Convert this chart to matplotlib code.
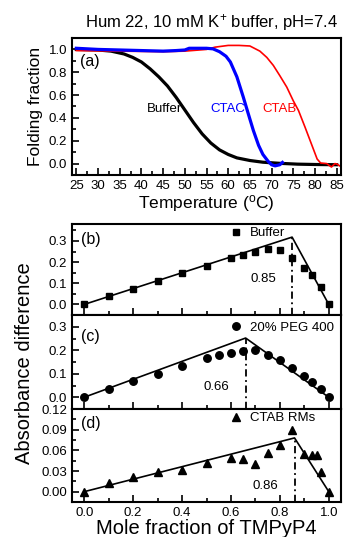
import matplotlib
matplotlib.use('Agg')
import matplotlib.pyplot as plt
from matplotlib.ticker import MultipleLocator, FormatStrFormatter

plt.rcParams['font.family'] = 'Liberation Sans'
plt.rcParams['mathtext.default'] = 'regular'

# (a) melting curves
temp_buffer = [25, 30, 33, 36, 38, 40, 42, 44, 46, 48, 50, 52, 54, 56, 58, 60,
               62, 65, 68, 72, 76, 80, 85]
frac_buffer = [1.0, 0.995, 0.985, 0.96, 0.93, 0.89, 0.83, 0.76, 0.68, 0.58, 0.47,
               0.36, 0.26, 0.18, 0.12, 0.08, 0.05, 0.027, 0.012, 0.002, -0.005,
               -0.008, -0.01]
temp_ctac = [25, 30, 35, 40, 45, 48, 50, 51, 52, 55, 56.5, 58, 59.5, 60.5, 62,
             63.5, 64.6, 65.8, 67, 68, 69.2, 70, 70.8, 71.9, 72.5]
frac_ctac = [1.01, 1.0, 0.995, 0.99, 0.985, 0.99, 0.995, 1.01, 1.01, 1.01, 1.005,
             0.98, 0.94, 0.89, 0.76, 0.58, 0.44, 0.29, 0.16, 0.08, 0.02, -0.01,
             -0.02, -0.01, 0.01]
temp_ctab = [25, 35, 45, 50, 55, 57, 60, 62.5, 65, 67.3, 68.9, 70.4, 71.9, 73.5,
             75, 76.2, 77.7, 79.2, 80.5, 81.3, 82.7, 83.8, 84.6, 85.1, 85.7]
frac_ctab = [0.99, 0.985, 0.98, 0.985, 1.0, 1.02, 1.035, 1.035, 1.03, 0.985, 0.93,
             0.86, 0.77, 0.67, 0.55, 0.465, 0.32, 0.17, 0.04, 0.005, 0.0, -0.03,
             0.0, -0.005, -0.02]

# (b)-(d) job plots
x_buffer = [0, 0.1, 0.2, 0.3, 0.4, 0.5, 0.6, 0.65, 0.7, 0.75, 0.8, 0.85, 0.9,
            0.93, 0.97, 1.0]
y_buffer = [0.0, 0.04, 0.074, 0.113, 0.147, 0.183, 0.219, 0.234, 0.249, 0.26,
            0.258, 0.218, 0.172, 0.139, 0.08, 0.0]
x_peg = [0, 0.1, 0.2, 0.3, 0.4, 0.5, 0.55, 0.6, 0.65, 0.7, 0.75, 0.8, 0.85, 0.9,
         0.93, 0.97, 1.0]
y_peg = [0.0, 0.034, 0.07, 0.10, 0.134, 0.167, 0.178, 0.188, 0.195, 0.2, 0.18,
         0.157, 0.123, 0.09, 0.065, 0.034, 0.0]
x_rms = [0, 0.1, 0.2, 0.3, 0.4, 0.5, 0.6, 0.65, 0.7, 0.75, 0.8, 0.85, 0.9, 0.93,
         0.95, 0.97, 1.0]
y_rms = [0.0, 0.012, 0.022, 0.029, 0.031, 0.042, 0.049, 0.047, 0.040, 0.056,
         0.068, 0.089, 0.055, 0.053, 0.053, 0.029, 0.0]

# linear fits: intersection mole fraction and the absorbance there
breaks = [0.85, 0.66, 0.86]
peaks = [0.318, 0.252, 0.078]

W, H = 347, 537
fig = plt.figure(figsize=(W / 100, H / 100), dpi=100)


def rect(left, top, right, bottom):
    return [left / W, 1 - bottom / H, (right - left) / W, (bottom - top) / H]


def style(ax):
    for s in ax.spines.values():
        s.set_linewidth(1.5)
    ax.tick_params(which='both', direction='in', top=False, right=False,
                   labelsize=9.5, width=1.2)
    ax.tick_params(which='major', length=5)
    ax.tick_params(which='minor', length=3)


ax_a = fig.add_axes(rect(72, 38, 341, 175))
ax_a.plot(temp_buffer, frac_buffer, color='black', lw=2.3)
ax_a.plot(temp_ctab, frac_ctab, color='red', lw=1.2)
ax_a.plot(temp_ctac, frac_ctac, color='blue', lw=2.3)
ax_a.set_xlim(24, 86)
ax_a.set_ylim(-0.1, 1.1)
ax_a.xaxis.set_major_locator(MultipleLocator(5))
ax_a.xaxis.set_minor_locator(MultipleLocator(2.5))
ax_a.yaxis.set_major_locator(MultipleLocator(0.2))
ax_a.yaxis.set_minor_locator(MultipleLocator(0.1))
ax_a.yaxis.set_major_formatter(FormatStrFormatter('%.1f'))
style(ax_a)
ax_a.set_xlabel('Temperature ($^{o}$C)', fontsize=12.5, labelpad=1)
ax_a.set_ylabel('Folding fraction', fontsize=12.5, labelpad=4)
ax_a.text(45.3, 0.48, 'Buffer', color='black', fontsize=9.5, ha='center', va='center')
ax_a.text(59.8, 0.48, 'CTAC', color='blue', fontsize=9.5, ha='center', va='center')
ax_a.text(71.8, 0.48, 'CTAB', color='red', fontsize=9.5, ha='center', va='center')
ax_a.text(0.03, 0.825, '(a)', transform=ax_a.transAxes, fontsize=11.5, va='center')

fig.text(212 / W, 1 - 22 / H, 'Hum 22, 10 mM K$^{+}$ buffer, pH=7.4',
         fontsize=12, ha='center', va='center')

ax_b = fig.add_axes(rect(72, 224, 341, 315))
ax_c = fig.add_axes(rect(72, 315, 341, 409))
ax_d = fig.add_axes(rect(72, 409, 341, 502))

panels = [
    (ax_b, x_buffer, y_buffer, 's', 4.8, 'Buffer', (-0.05, 0.38), 0.1, 0.05, '%.1f',
     '(b)', 0.835, 0.90, 0.12),
    (ax_c, x_peg, y_peg, 'o', 5.4, '20% PEG 400', (-0.05, 0.35), 0.1, 0.05, '%.1f',
     '(c)', 0.766, 0.862, 0.043),
    (ax_d, x_rms, y_rms, '^', 6.0, 'CTAB RMs', (-0.015, 0.12), 0.03, 0.015, '%.2f',
     '(d)', 0.84, 0.902, 0.0087),
]

for i, (ax, xs, ys, mk, ms, name, ylim, major, minor, fmt, tag, tag_y, leg_y, num_y) \
        in enumerate(panels):
    brk, pk = breaks[i], peaks[i]
    ax.plot(xs, ys, ls='none', marker=mk, ms=ms, color='black', label=name)
    ax.plot([0, brk, 1.0], [0, pk, 0], color='black', lw=1.2)
    ax.vlines(brk, ylim[0], pk, color='black', lw=1.3,
              linestyles=(0, (4, 2, 1, 2)))
    ax.set_xlim(-0.05, 1.05)
    ax.set_ylim(*ylim)
    ax.xaxis.set_major_locator(MultipleLocator(0.2))
    ax.xaxis.set_minor_locator(MultipleLocator(0.1))
    ax.yaxis.set_major_locator(MultipleLocator(major))
    ax.yaxis.set_minor_locator(MultipleLocator(minor))
    ax.yaxis.set_major_formatter(FormatStrFormatter(fmt))
    style(ax)
    ax.text(brk - 0.065, num_y, '%.2f' % brk, fontsize=9.5, ha='right', va='center')
    ax.text(0.033, tag_y, tag, transform=ax.transAxes, fontsize=11.5, va='center')
    ax.legend(loc='center left', bbox_to_anchor=(0.584, leg_y), frameon=False,
              fontsize=9.5, handlelength=1.0, handletextpad=0.6, borderpad=0,
              borderaxespad=0)
    if ax is not ax_d:
        ax.tick_params(labelbottom=False)

ax_d.xaxis.set_major_formatter(FormatStrFormatter('%.1f'))
ax_d.set_xlabel('Mole fraction of TMPyP4', fontsize=14.5, labelpad=0)
fig.text(24 / W, 1 - 363 / H, 'Absorbance difference', fontsize=14.5,
         rotation=90, ha='center', va='center')

fig.savefig('out.png', dpi=100)
